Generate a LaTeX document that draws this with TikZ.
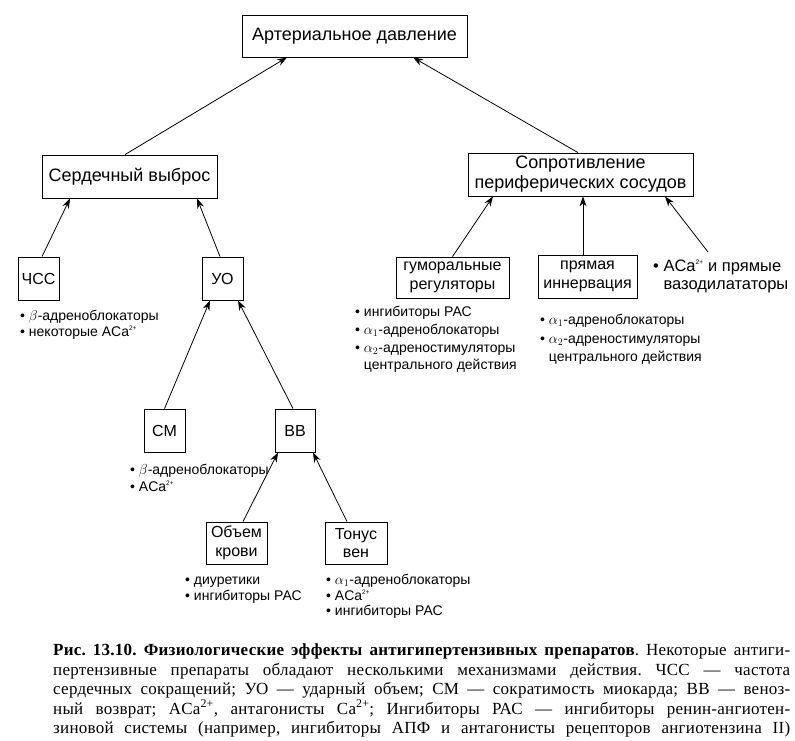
\documentclass[tikz,border=0pt]{standalone}
\usepackage{fontspec}
\setmainfont{Liberation Sans}
\newfontfamily\capfont[LetterSpace=1.5]{Liberation Serif}
\usetikzlibrary{arrows.meta}
\newcommand{\sqp}{\textsuperscript{\fontsize{6.5}{7}\selectfont 2+}}
\frenchspacing
\begin{document}
\begin{tikzpicture}[x=1pt,y=-1pt,
  box/.style={draw=black, line width=0.8pt, inner sep=0pt, align=center, font=\fontsize{18}{20}\selectfont},
  sbox/.style={box, font=\fontsize{16}{18.5}\selectfont},
  lbl/.style={anchor=base west, inner sep=0pt, font=\fontsize{14}{17}\selectfont},
  vlbl/.style={anchor=base west, inner sep=0pt, font=\fontsize{16.5}{18}\selectfont},
  captxt/.style={anchor=base west, inner sep=0pt, font=\capfont\fontsize{17}{19.5}\selectfont},
  arr/.style={-{Stealth[length=10pt,width=7pt]}, line width=0.8pt}]
\useasboundingbox (0,0) rectangle (795,741);
\fill[white] (0,0) rectangle (795,741);

% boxes
\node[box, minimum width=225pt, minimum height=42pt] (art) at (354.5,36) {Артериальное давление};
\node[box, minimum width=175pt, minimum height=43pt] (co) at (129.5,176.5) {Сердечный выброс};
\node[box, minimum width=225pt, minimum height=43pt] (spr) at (580.5,174.5) {Сопротивление\\периферических сосудов};
\node[sbox, minimum width=41pt, minimum height=43pt] (chss) at (38.5,278.5) {ЧСС};
\node[sbox, minimum width=41pt, minimum height=43pt] (uo) at (222.5,278.5) {УО};
\node[sbox, minimum width=41pt, minimum height=43pt] (sm) at (164.5,430.5) {СМ};
\node[sbox, minimum width=40pt, minimum height=43pt] (vv) at (295,430.5) {ВВ};
\node[sbox, minimum width=61pt, minimum height=42pt] (ok) at (236.5,543) {Объем\\крови};
\node[sbox, minimum width=62pt, minimum height=42pt] (tv) at (356,543) {Тонус\\вен};
\node[sbox, minimum width=113pt, minimum height=41pt] (gum) at (452.5,277.5) {гуморальные\\регуляторы};
\node[sbox, minimum width=99pt, minimum height=43pt] (pi) at (587.5,276.5) {прямая\\иннервация};

% labels
\node[lbl] (chssA) at (20,320) {• $\beta$-адреноблокаторы};
\node[lbl] (chssB) at (20,336) {• некоторые ACa\sqp};
\node[lbl] (smA) at (130,474) {• $\beta$-адреноблокаторы};
\node[lbl] (smB) at (130,491) {• ACa\sqp};
\node[lbl] (okA) at (185,584) {• диуретики};
\node[lbl] (okB) at (185,600) {• ингибиторы РАС};
\node[lbl] (tvA) at (326,584) {• $\alpha_1$-адреноблокаторы};
\node[lbl] (tvB) at (326,600) {• ACa\sqp};
\node[lbl] (tvC) at (326,615) {• ингибиторы РАС};
\node[lbl] (gumA) at (355,316) {• ингибиторы РАС};
\node[lbl] (gumB) at (355,334) {• $\alpha_1$-адреноблокаторы};
\node[lbl] (gumC) at (355,352) {• $\alpha_2$-адреностимуляторы};
\node[lbl] (gumD) at (355,369) {\phantom{• }центрального действия};
\node[lbl] (piA) at (540,324) {• $\alpha_1$-адреноблокаторы};
\node[lbl] (piB) at (540,343) {• $\alpha_2$-адреностимуляторы};
\node[lbl] (piC) at (540,361) {\phantom{• }центрального действия};
\node[vlbl] (vasoA) at (653,271) {• ACa\sqp\ и прямые};
\node[vlbl] (vasoB) at (653,289) {\phantom{• }вазодилататоры};
\coordinate (vasotop) at (708,252);

% arrows
\draw[arr] ([xshift=-4.5pt]co.north) -- ([xshift=-67.5pt]art.south);
\draw[arr] ([xshift=-2.5pt]spr.north) -- ([xshift=58.5pt]art.south);
\draw[arr] ([xshift=3.5pt]chss.north) -- ([xshift=-59.5pt]co.south);
\draw[arr] ([xshift=-2.5pt]uo.north) -- ([xshift=67.5pt]co.south);
\draw[arr] (sm.north) -- ([xshift=-12.5pt]uo.south);
\draw[arr] ([xshift=-2pt]vv.north) -- ([xshift=15.5pt]uo.south);
\draw[arr] ([xshift=6.5pt]ok.north) -- ([xshift=-17pt]vv.south);
\draw[arr] ([xshift=-9pt]tv.north) -- ([xshift=18pt]vv.south);
\draw[arr] (gum.north) -- ([xshift=-87.5pt]spr.south);
\draw[arr] ([xshift=-4.5pt]pi.north) -- ([xshift=2.5pt]spr.south);
\draw[arr] (vasotop) -- ([xshift=84.5pt]spr.south);

% caption
\node[captxt] (c1) at (53,655) {\makebox[737pt][s]{\textbf{Рис. 13.10. Физиологические эффекты антигипертензивных препаратов}. Некоторые антиги-}};
\node[captxt] (c2) at (53,675) {\makebox[737pt][s]{пертензивные препараты обладают несколькими механизмами действия. ЧСС — частота}};
\node[captxt] (c3) at (53,694) {\makebox[737pt][s]{сердечных сокращений; УО — ударный объем; СМ — сократимость миокарда; ВВ — веноз-}};
\node[captxt] (c4) at (53,714) {\makebox[737pt][s]{ный возврат; ACa\textsuperscript{2+}, антагонисты Ca\textsuperscript{2+}; Ингибиторы РАС — ингибиторы ренин-ангиотен-}};
\node[captxt] (c5) at (53,733) {\makebox[737pt][s]{зиновой системы (например, ингибиторы АПФ и антагонисты рецепторов ангиотензина II)}};
\end{tikzpicture}
\end{document}
